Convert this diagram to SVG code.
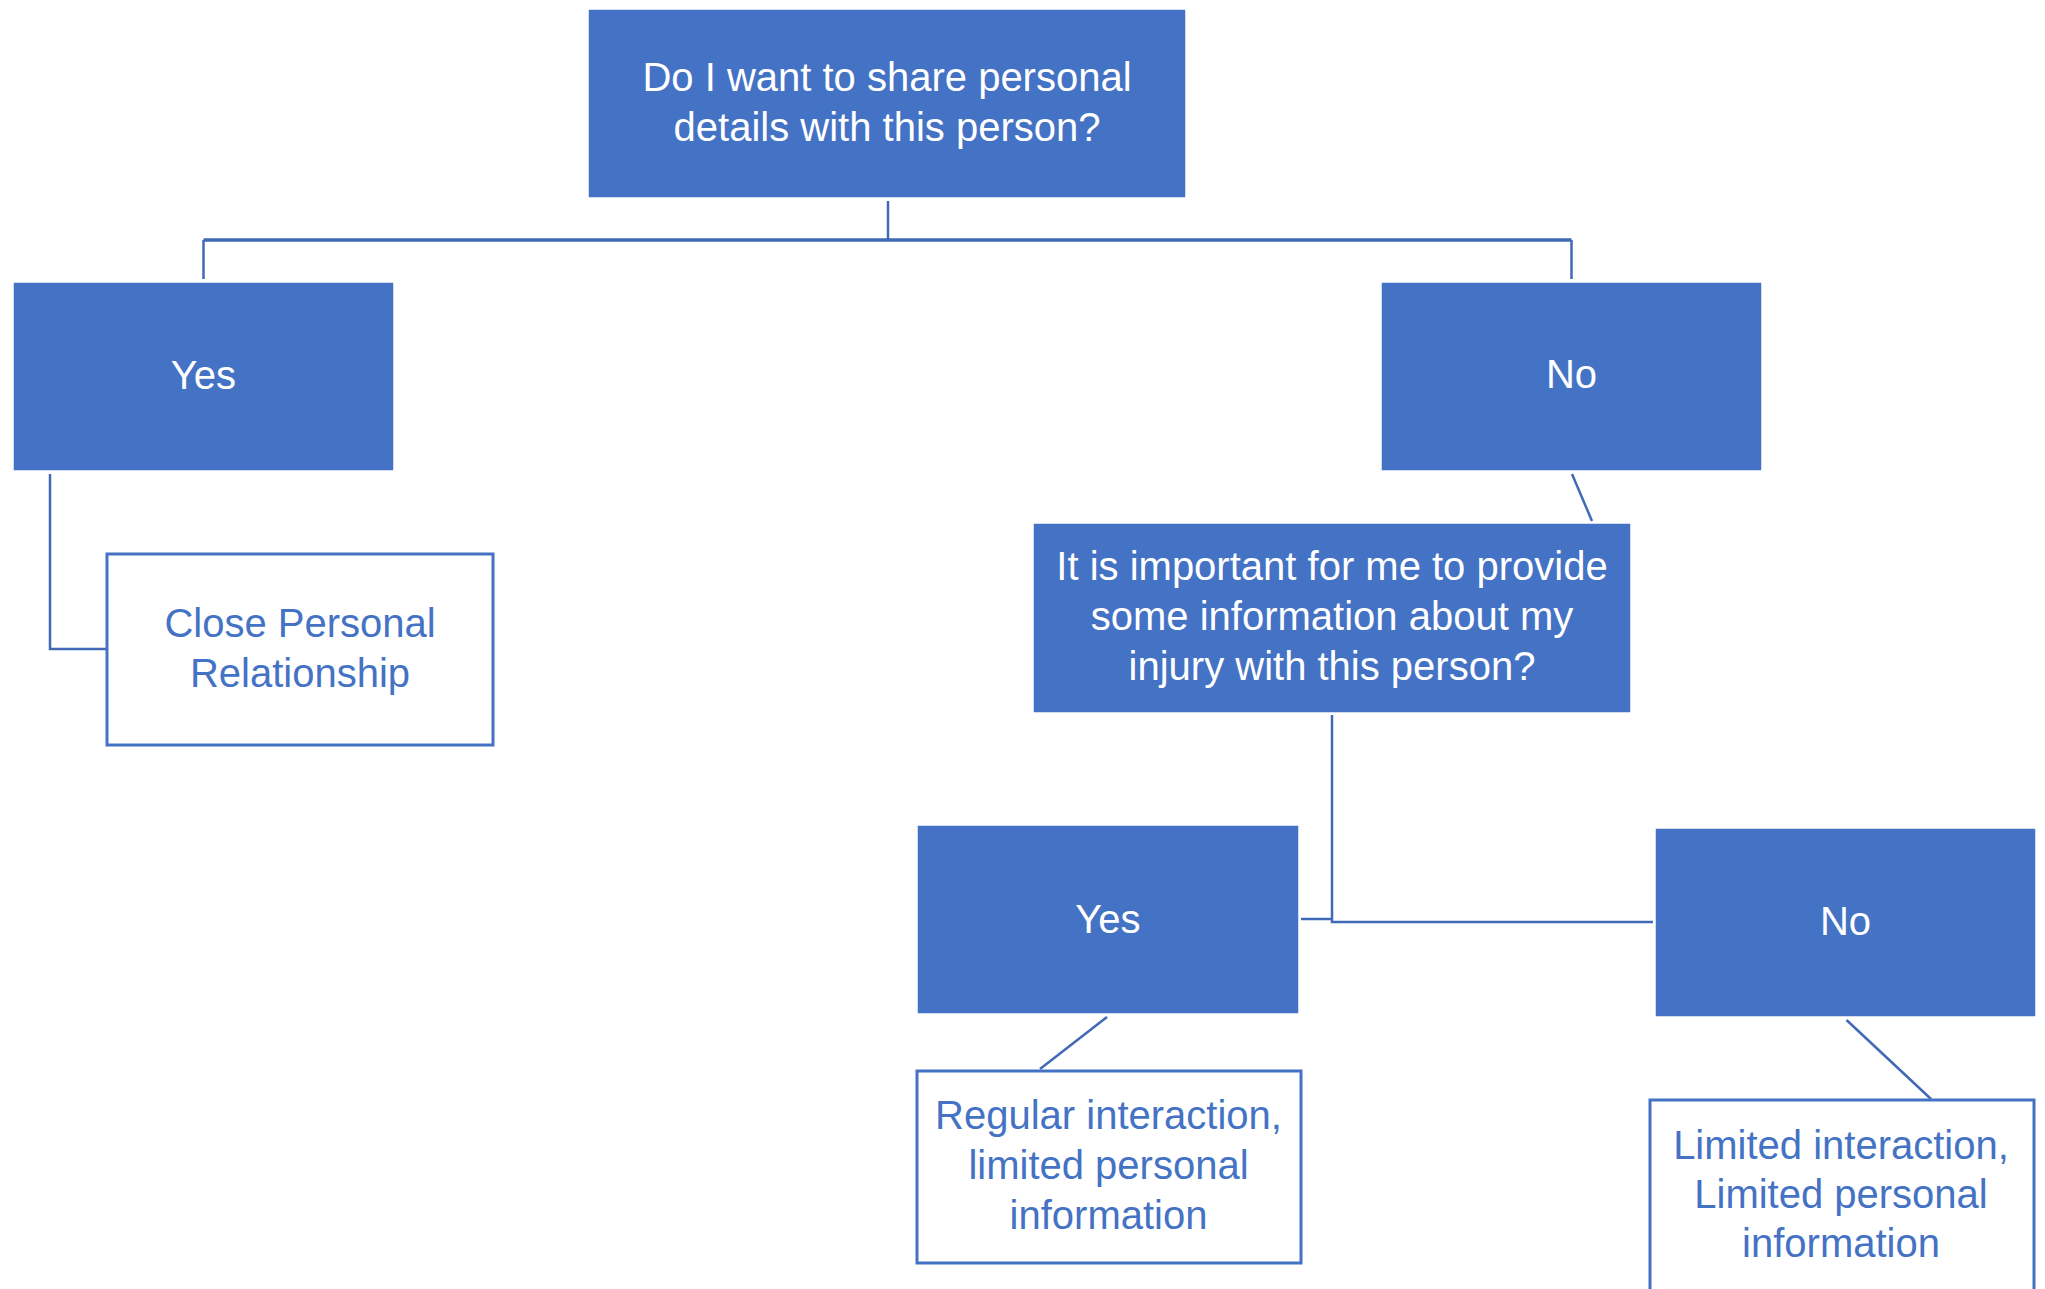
<svg xmlns="http://www.w3.org/2000/svg" width="2045" height="1289" viewBox="0 0 2045 1289">
<style>
.box{fill:#4472C4;stroke:#ffffff;stroke-width:1.5}
.obox{fill:#ffffff;stroke:#4472C4;stroke-width:3}
.wt{font-family:"Liberation Sans",Arial,sans-serif;font-size:40px;fill:#ffffff;text-anchor:middle}
.bt{font-family:"Liberation Sans",Arial,sans-serif;font-size:40px;fill:#4472C4;text-anchor:middle}
.ln{fill:none;stroke:#4169B5;stroke-width:2.5}
</style>
<rect width="2045" height="1289" fill="#ffffff"/>
<g id="connectors">
<path class="ln" d="M888 201 V240"/>
<path class="ln" style="stroke-width:3.5" d="M203.5 240 H1571.5"/>
<path class="ln" d="M203.5 240 V279"/>
<path class="ln" d="M1571.5 240 V279"/>
<path class="ln" d="M50 474 V649 H107"/>
<path class="ln" d="M1572 474 L1592 521"/>
<path class="ln" d="M1332 715 V922 H1653"/>
<path class="ln" d="M1301 919 H1332"/>
<path class="ln" d="M1107 1017 L1040 1069"/>
<path class="ln" d="M1846.5 1020 L1931 1099"/>
</g>
<g id="root">
<rect class="box" x="588" y="9" width="598" height="189"/>
<text class="wt" x="887" y="91">Do I want to share personal</text>
<text class="wt" x="887" y="141">details with this person?</text>
</g>
<g id="yes1">
<rect class="box" x="13" y="282" width="381" height="189"/>
<text class="wt" x="203.5" y="389">Yes</text>
</g>
<g id="no1">
<rect class="box" x="1381" y="282" width="381" height="189"/>
<text class="wt" x="1571.5" y="388">No</text>
</g>
<g id="close">
<rect class="obox" x="107" y="554" width="386" height="191"/>
<text class="bt" x="300" y="637">Close Personal</text>
<text class="bt" x="300" y="687">Relationship</text>
</g>
<g id="question">
<rect class="box" x="1033" y="523" width="598" height="190"/>
<text class="wt" x="1332" y="580">It is important for me to provide</text>
<text class="wt" x="1332" y="630">some information about my</text>
<text class="wt" x="1332" y="680">injury with this person?</text>
</g>
<g id="yes2">
<rect class="box" x="917" y="825" width="382" height="189"/>
<text class="wt" x="1108" y="933">Yes</text>
</g>
<g id="no2">
<rect class="box" x="1655" y="828" width="381" height="189"/>
<text class="wt" x="1845.5" y="935">No</text>
</g>
<g id="regular">
<rect class="obox" x="917" y="1071" width="384" height="192"/>
<text class="bt" x="1108.5" y="1129">Regular interaction,</text>
<text class="bt" x="1108.5" y="1179">limited personal</text>
<text class="bt" x="1108.5" y="1229">information</text>
</g>
<g id="limited">
<rect class="obox" x="1650" y="1100" width="384" height="200"/>
<text class="bt" x="1841" y="1159">Limited interaction,</text>
<text class="bt" x="1841" y="1208">Limited personal</text>
<text class="bt" x="1841" y="1257">information</text>
</g>
</svg>
